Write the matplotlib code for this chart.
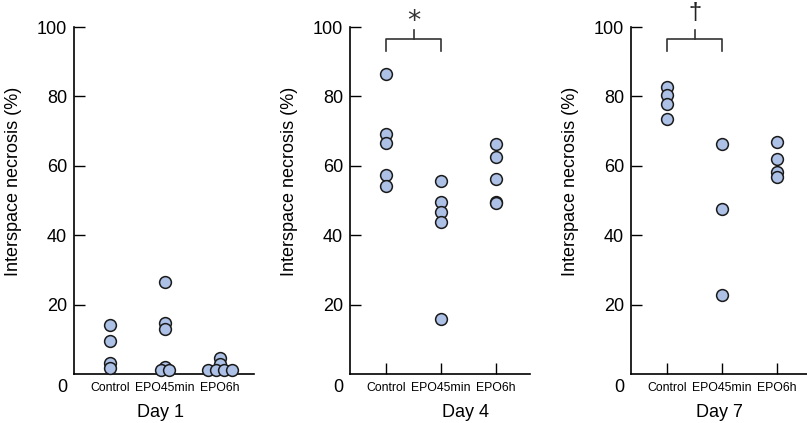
import matplotlib
matplotlib.use("Agg")
import matplotlib.pyplot as plt
import numpy as np

plt.rcParams['font.family'] = ['Liberation Sans', 'DejaVu Sans']

# Values (interspace necrosis, %)
groups = ['Control', 'EPO45min', 'EPO6h']
days = ['Day 1', 'Day 4', 'Day 7']

day1 = [
    [14.0, 9.6, 3.2, 1.8],
    [26.5, 14.8, 13.0, 2.1, 1.2, 1.2],
    [4.7, 2.9, 1.2, 1.2, 1.2, 1.2],
]
day4 = [
    [86.5, 69.1, 66.7, 57.4, 54.2],
    [55.6, 49.6, 46.7, 43.9, 15.9],
    [66.3, 62.4, 56.2, 49.6, 49.2],
]
day7 = [
    [82.6, 80.5, 77.9, 73.5],
    [66.3, 47.5, 22.7],
    [66.9, 62.0, 58.2, 56.7],
]
all_days = [day1, day4, day7]

# significance marks: (day index, group a, group b, symbol)
sig_marks = [(1, 0, 1, '*'), (2, 0, 1, '\u2020')]

face = '#adc1e7'
edge = '#1a1a1a'

fig = plt.figure(figsize=(8.07, 4.23), dpi=100)
W, H = 807, 423
lefts = [74, 350, 631]
title_x = [0.483, 0.644, 0.494]


def spread(vals, step=0.15):
    # put points with identical values side by side
    vals = np.asarray(vals)
    offs = np.zeros(len(vals))
    for v in np.unique(vals):
        idx = np.where(vals == v)[0]
        n = len(idx)
        if n > 1:
            offs[idx] = (np.arange(n) - (n - 1) / 2) * step
    return offs


axes = []
for d, data in enumerate(all_days):
    ax = fig.add_axes([lefts[d] / W, (H - 374) / H, 180 / W, 347 / H])
    axes.append(ax)
    for g, vals in enumerate(data):
        xs = g + spread(vals)
        ax.scatter(xs, vals, s=72, facecolor=face, edgecolor=edge,
                   linewidth=1.1, zorder=5, clip_on=False)

    ax.set_xlim(-0.66, 2.62)
    ax.set_ylim(0, 100)
    ax.set_yticks([20, 40, 60, 80, 100])
    ax.set_xticks(range(len(groups)))
    ax.set_xticklabels(groups, fontsize=8.8)
    ax.tick_params(axis='y', direction='in', length=8, width=1.0,
                   labelsize=13, pad=5)
    ax.tick_params(axis='x', direction='in', length=8, width=1.0, pad=6)
    for s in ['top', 'right']:
        ax.spines[s].set_visible(False)
    for s in ['left', 'bottom']:
        ax.spines[s].set_linewidth(1.2)

    ax.annotate('0', xy=(0, 0), xycoords=('axes fraction', 'data'),
                xytext=(-5, -9.5), textcoords='offset points',
                ha='right', va='center', fontsize=13)
    ax.set_ylabel('Interspace necrosis (%)', fontsize=13)
    ax.yaxis.set_label_coords(-52 / 180, 0.556)
    ax.text(title_x[d], -38 / 347, days[d], transform=ax.transAxes,
            ha='center', va='center', fontsize=13)

for d, a, b, sym in sig_marks:
    ax = axes[d]
    kw = dict(color='#333333', lw=1.2, clip_on=False)
    ax.plot([a, a, b, b], [93, 96.4, 96.4, 93], **kw)
    ax.plot([(a + b) / 2] * 2, [96.4, 99], **kw)
    if sym == '*':
        ax.text((a + b) / 2, 101.5, sym, ha='center', va='center',
                fontsize=19, color='#333333', family='DejaVu Sans')
    else:
        ax.text((a + b) / 2, 104, sym, ha='center', va='center',
                fontsize=17, color='#222222')

fig.savefig('out.png', dpi=100)
